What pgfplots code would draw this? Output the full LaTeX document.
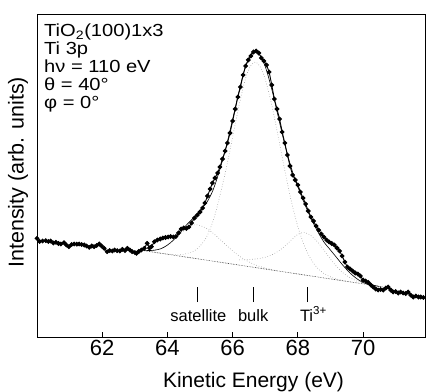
\documentclass[border=0pt]{standalone}
\usepackage{fontspec}
\setmainfont{Liberation Sans}
\usepackage{pgfplots}
\pgfplotsset{compat=1.18}
\begin{document}
\begin{tikzpicture}
\begin{axis}[
  at={(0,0)}, anchor=south west,
  width=388pt, height=323pt, scale only axis,
  xmin=60, xmax=71.9, ymin=0, ymax=323,
  xtick={62,64,66,68,70}, ytick=\empty,
  xtick pos=bottom, tick align=inside,
  major tick length=5pt,
  tick style={black, line width=0.8pt},
  axis line style={line width=0.9pt},
  /pgf/number format/assume math mode=true,
  tick label style={font=\fontsize{22}{24}\selectfont},
  xlabel={Kinetic Energy (eV)},
  xlabel style={at={(axis description cs:0.558,-0.155)}, anchor=base, font=\fontsize{21}{24}\selectfont},
  ylabel={Intensity (arb. units)},
  ylabel style={at={(axis description cs:-0.014,0.51)}, anchor=south, font=\fontsize{21.5}{24}\selectfont},
]
% background
\addplot[black!85, densely dotted, line width=0.6pt] coordinates {(63.1,87.2) (70.6,50.2)};
% satellite component
\addplot[gray!80, dotted, line width=0.6pt, smooth] coordinates {
(63.4,86.5) (63.6,86.8) (63.8,88.3) (64.0,91.7) (64.2,96.9) (64.4,103.3) (64.6,109.1)
(64.8,112.2) (65.0,111.5) (65.2,108.5) (65.4,103.8) (65.6,98.0) (65.8,91.9) (66.0,86.1)
(66.2,81.0) (66.4,76.8) (66.6,73.5) (66.8,70.9) (67.0,69.0) (67.2,67.4) (67.4,66.1)};
% bulk component
\addplot[gray!80, dotted, line width=0.6pt, smooth] coordinates {
(63.6,84.7) (64.0,83.0) (64.4,82.2) (64.8,85.7) (65.0,91) (65.2,100) (65.4,116) (65.6,140)
(65.8,168) (66.0,200) (66.2,232) (66.4,259) (66.55,271) (66.7,275) (66.85,270) (67.0,257.5)
(67.2,232) (67.4,200) (67.6,166.6) (67.8,135.8) (68.0,110.4) (68.2,91.2) (68.4,77.8)
(68.6,69.0) (68.8,63.5) (69.0,60.1) (69.2,57.9) (69.4,56.3) (69.6,55.2) (69.8,54.1)};
% Ti3+ component
\addplot[gray!80, dotted, line width=0.6pt, smooth] coordinates {
(66.2,77.1) (66.4,77.2) (66.6,77.7) (66.8,78.4) (67.0,79.8) (67.2,82.2) (67.4,85.8)
(67.6,90.8) (67.8,97.0) (68.0,102.6) (68.2,104.5) (68.4,101.5) (68.6,95.2) (68.8,86.8)
(69.0,77.9) (69.2,70.0) (69.4,63.7) (69.6,59.3) (69.8,56.1) (70.0,54.0) (70.2,52.8)};
% fit sum
\addplot[black, line width=0.6pt, smooth] coordinates {
(63.2,87.1) (63.4,86.5) (63.6,86.8) (63.8,88.3) (64.0,91.9) (64.2,97.4) (64.4,104.7)
(64.6,112.6) (64.8,119.1) (65.0,126.7) (65.2,134.2) (65.4,147) (65.6,166.7) (65.8,190.1)
(66.0,217.6) (66.2,246.3) (66.4,271.2) (66.6,284.3) (66.8,283.6) (67.0,270.5) (67.2,247.8)
(67.4,220.1) (67.6,192.5) (67.8,168.9) (68.0,150.1) (68.2,133.7) (68.4,119) (68.6,106)
(68.8,95) (69.0,87) (69.2,79) (69.4,71) (69.6,64) (69.8,58.5) (70.0,54.5) (70.2,52.5) (70.5,50.5)};
% data
\addplot[black, line width=0.9pt, mark=*, mark size=1.9pt] coordinates {
(60.00,98.7) (60.08,95.5) (60.17,96.0) (60.27,96.3) (60.35,95.5) (60.42,96.0) (60.50,94.0)
(60.58,94.7) (60.66,93.5) (60.73,93.0) (60.83,94.3) (60.90,92.0) (60.98,90.3) (61.06,92.5)
(61.14,93.0) (61.22,92.8) (61.29,93.0) (61.37,92.5) (61.45,92.0) (61.52,91.0) (61.60,89.7)
(61.68,91.0) (61.75,90.3) (61.83,91.5) (61.91,93.0) (61.98,91.0) (62.06,88.7) (62.15,85.3)
(62.23,86.5) (62.31,86.0) (62.38,87.0) (62.46,86.3) (62.54,86.0) (62.62,87.7) (62.70,86.5)
(62.77,88.7) (62.85,87.0) (62.92,85.3) (63.00,84.5) (63.05,83.7) (63.12,85.5) (63.20,87.0)
(63.29,88.7) (63.38,93.7) (63.45,89.0) (63.51,90.3) (63.60,95.3) (63.69,97.0) (63.78,98.0)
(63.86,99.0) (63.94,99.5) (64.02,100.0) (64.10,100.5) (64.18,100.0) (64.26,100.5) (64.34,104.0)
(64.42,108.0) (64.50,109.0) (64.58,108.5) (64.66,110.0) (64.74,114.0) (64.83,119.0) (64.92,122.0)
(65.00,125.0) (65.08,129.0) (65.15,134.0) (65.23,141.0) (65.31,148.0) (65.38,154.0) (65.46,159.0)
(65.54,164.0) (65.61,170.0) (65.69,178.0) (65.77,186.0) (65.84,194.0) (65.92,204.0) (66.00,216.0)
(66.08,228.0) (66.16,240.0) (66.24,250.0) (66.32,262.0) (66.40,271.0) (66.48,277.0) (66.56,281.0)
(66.64,285.0) (66.72,286.0) (66.80,284.0) (66.88,279.0) (66.96,276.0) (67.04,272.0) (67.12,265.0)
(67.20,252.0) (67.28,238.0) (67.36,228.0) (67.44,218.0) (67.52,205.0) (67.60,194.0) (67.68,182.0)
(67.76,171.0) (67.84,162.0) (67.92,157.0) (68.00,152.0) (68.08,145.0) (68.16,139.0) (68.24,133.0)
(68.32,126.0) (68.40,120.0) (68.48,116.0) (68.56,111.0) (68.64,107.0) (68.72,103.0) (68.80,100.0)
(68.88,97.0) (68.96,95.0) (69.04,93.5) (69.12,92.0) (69.20,89.0) (69.28,86.0) (69.36,81.0)
(69.44,75.0) (69.52,70.0) (69.60,68.0) (69.68,66.0) (69.76,64.0) (69.84,63.0) (69.92,61.0)
(70.00,57.0) (70.08,56.0) (70.16,54.5) (70.24,52.0) (70.31,50.0) (70.39,48.0) (70.46,47.0)
(70.54,47.5) (70.62,47.0) (70.70,49.0) (70.77,50.0) (70.85,47.0) (70.92,45.0) (71.00,45.5)
(71.08,44.0) (71.15,45.0) (71.23,44.0) (71.31,43.5) (71.38,45.0) (71.46,42.0) (71.54,40.0)
(71.62,41.0) (71.70,40.0) (71.77,40.0) (71.85,39.5)};
% component position markers
\addplot[black, line width=0.6pt] coordinates {(64.92,35) (64.92,50)};
\addplot[black, line width=0.6pt] coordinates {(66.63,35) (66.63,50)};
\addplot[black, line width=0.6pt] coordinates {(68.28,35) (68.28,50)};
\node[anchor=base, font=\fontsize{16.5}{19}\selectfont, inner sep=0] at (axis cs:64.95,16) {satellite};
\node[anchor=base, font=\fontsize{16.5}{19}\selectfont, inner sep=0] at (axis cs:66.63,16) {bulk};
\node[anchor=base west, font=\fontsize{16.5}{19}\selectfont, inner sep=0] at (axis cs:68.06,16) {Ti\textsuperscript{3+}};
\node[anchor=north west, inner sep=0] at (axis description cs:0.018,0.970)
 {\scalebox{1.15}[1]{\fontsize{17.5}{18}\selectfont\begin{tabular}{@{}l@{}}TiO\textsubscript{2}(100)1x3\\Ti 3p\\hν = 110 eV\\θ = 40°\\φ = 0°\end{tabular}}};
\end{axis}
\pgfresetboundingbox
\path[use as bounding box] (-37pt,-54pt) rectangle (390pt,337pt);
\end{tikzpicture}
\end{document}
